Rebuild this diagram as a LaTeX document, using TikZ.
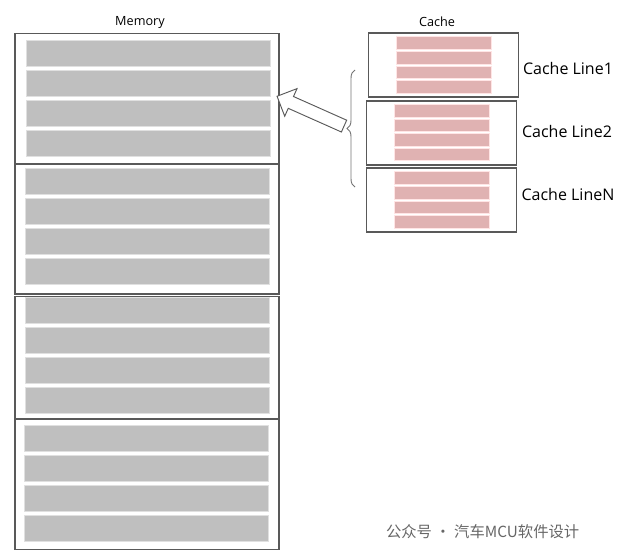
\documentclass[tikz,border=0pt]{standalone}
\usepackage{fontspec}
\setmainfont{Open Sans}
\newfontfamily\cjk{Noto Sans CJK SC}
\usetikzlibrary{shapes.arrows,decorations.pathreplacing}
\begin{document}
\begin{tikzpicture}[x=0.75pt,y=-0.75pt]
        \tikzstyle{every node}=[inner sep=0pt,outer sep=0pt]
        \tikzstyle{blk}=[draw=black!65,line width=0.8pt,minimum width=198pt]
        \tikzstyle{row}=[fill=black!25,draw=black!12,line width=0.6pt,minimum width=183pt,minimum height=19.5pt]
        \tikzstyle{cbox}=[draw=black!65,line width=0.8pt,minimum width=113pt,minimum height=48pt]
        \tikzstyle{crow}=[fill=red!60!black!30,draw=red!10,line width=0.4pt,minimum width=71pt,minimum height=9.5pt]
        \tikzstyle{lbl}=[font=\fontsize{12}{14}\selectfont]

        \useasboundingbox (0,0) rectangle (624,557);

        % memory blocks
        \node[blk,minimum height=98pt] (mem1) at (147,98.5) {};
        \node[blk,minimum height=97.5pt] (mem2) at (147,229) {};
        \node[blk,minimum height=92pt] (mem3) at (147,357.5) {};
        \node[blk,minimum height=97pt] (mem4) at (147,484.5) {};
        \foreach \b/\x/\y in {1/148/53, 2/147/181, 3/147/310.5, 4/146.5/438} {
            \foreach \k in {0,1,2,3} {
                \node[row] (m\b_\k) at (\x,\y+30*\k) {};
            };
        };
        \node[font=\fontsize{9.5}{11}\selectfont] (memlabel) at (140,22) {Memory};

        % cache lines
        \node[cbox] (c1) at (443.5,65) {};
        \node[cbox] (c2) at (441.5,133) {};
        \node[cbox] (c3) at (441.5,200) {};
        \foreach \c/\x/\y in {1/443.5/43, 2/442/110.5, 3/442/178} {
            \foreach \k in {0,1,2,3} {
                \node[crow] (c\c_\k) at (\x,\y+14.6*\k) {};
            };
        };
        \node[font=\fontsize{9.5}{11}\selectfont] (cachelabel) at (437,22) {Cache};
        \node[lbl] (l1) at (568,68) {Cache Line1};
        \node[lbl] (l2) at (567,131) {Cache Line2};
        \node[lbl] (l3) at (568,194) {Cache LineN};

        % brace and arrow
        \coordinate (btop) at (355,70);
        \coordinate (bbot) at (355,187);
        \draw[black!55,line width=0.7pt,decorate,decoration={brace,amplitude=6pt,aspect=0.5}] (bbot) -- (btop);
        \node[single arrow,draw=black!65,fill=white,line width=0.7pt,minimum height=55pt,
              inner ysep=4.5pt,single arrow head extend=6.5pt,rotate=156] (arr) at (313.5,112.5) {};

        % watermark
        \node[font=\cjk\fontsize{11.5}{13}\selectfont,text=black!60,anchor=west] (wm) at (386,532) {公众号 · 汽车MCU软件设计};
\end{tikzpicture}
\end{document}
